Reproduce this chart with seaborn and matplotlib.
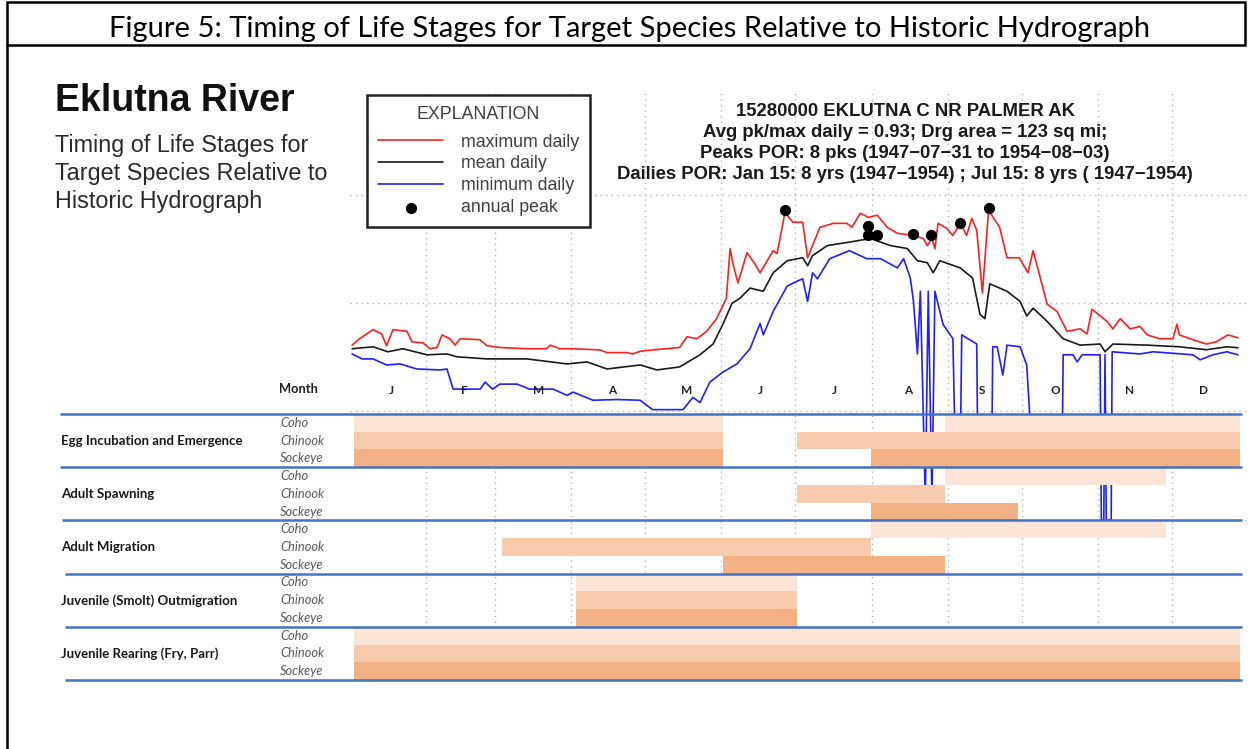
import matplotlib
matplotlib.use("Agg")
import matplotlib.pyplot as plt
from matplotlib.lines import Line2D
from matplotlib.patches import Rectangle
import numpy as np
import pandas as pd
import seaborn as sns

# ---- hydrograph data (day of year, cfs) ----
max_day = [1, 4, 9.5, 13, 15, 17.6, 23.3, 25.3, 29.8, 32.6,
           35.5, 37.5, 40.7, 42.8, 44.8, 52.9, 55.8, 61, 72, 80,
           81.4, 85.4, 90.7, 101.7, 104.5, 112.6, 115, 118, 123, 134,
           137, 141, 145, 149, 153, 154.5, 155.7, 157.7, 161.4, 164.6,
           166.7, 172, 173.6, 176.8, 180, 184, 186, 191, 196.4, 202,
           204, 207.4, 210.7, 214.3, 218.4, 222.5, 229, 233, 234.6, 236.5,
           237.7, 239, 242.5, 245, 248, 250.6, 252.7, 254.7, 257, 259.5,
           264, 267, 272, 275.5, 277.6, 281.6, 283.3, 287.3, 291.4, 296.7,
           299.5, 301.5, 307.6, 310, 313, 317, 321, 324, 329, 334.4,
           336, 337, 342.5, 348, 352, 356.7, 360.8]
max_cfs = [41, 47, 57, 52, 40.5, 57, 55, 44, 43, 38,
           39, 51, 47, 41, 47, 46, 40.5, 39, 38, 38,
           41, 38, 38, 37, 35, 35, 34, 36, 37, 39,
           49, 47, 55, 72, 111, 320, 231, 154, 293, 231,
           191, 306, 287, 690, 560, 560, 263, 502, 547, 547,
           502, 679, 622, 650, 502, 442, 423, 396, 341, 396,
           320, 547, 492, 423, 547, 423, 609, 471, 124, 724,
           502, 263, 263, 191, 306, 138, 98, 84, 55, 58,
           52, 88, 68, 58, 72, 58, 61, 51, 47, 47,
           64, 51, 46, 42, 44, 51, 48]

mean_day = [1, 9.5, 15.5, 21.6, 31.4, 39.5, 43.6, 55.8, 72, 88.3,
            96.4, 104.5, 118, 124.8, 134, 142.3, 147.6, 151.6, 155.3, 158.5,
            162.6, 168, 172, 177.7, 182, 184, 186, 188, 194, 202,
            211.5, 219.6, 226.5, 230.6, 234.6, 237, 239.7, 248, 253, 256,
            258, 260, 267, 272.3, 275, 277.6, 283.3, 289.8, 296.7, 304.8,
            306.8, 310, 324, 337, 348, 356.3, 360.8]
mean_cfs = [38, 39.6, 35.6, 38, 33.4, 34, 32, 30.6, 30.6, 27.5,
            28.7, 24.7, 26.9, 24.2, 25.8, 33.4, 42, 64, 100, 111,
            138, 129, 191, 247, 258, 263, 222, 275, 341, 364,
            396, 341, 320, 247, 237, 191, 247, 212, 171, 79,
            72, 151, 129, 104, 76, 90, 68, 47, 41, 42,
            35.6, 42, 41, 39.6, 37.2, 39.6, 38.8]

min_day = [1, 5, 9.5, 15, 20.4, 27.3, 36.7, 39.5, 42, 53,
           55, 58, 61, 68, 73, 82.6, 88.3, 90.7, 98.8, 108.6,
           118, 123, 135.4, 139.4, 142.3, 146.3, 151.6, 157.3, 162.6, 166.7,
           168, 172, 177.7, 182, 184, 186, 188, 190, 195, 203,
           210, 215.6, 222.5, 225, 227.7, 229, 230.6, 231.8, 233.8, 235,
           236.5, 237.7, 241, 245, 246, 248, 248.6, 254.7, 255.1, 260.8,
           261.2, 263, 265.3, 267, 272.3, 275, 277.2, 289.4, 289.8, 291.8,
           293.8, 295.5, 297.5, 304.8, 305.3, 306.3, 306.8, 307.3, 309.3, 309.7,
           321, 326.3, 342.5, 345.4, 350.6, 356.3, 360.8]
min_cfs = [34, 30.6, 30.6, 26.9, 27.5, 24.7, 24.2, 24.7, 16.1, 16.1,
           18.7, 16.1, 17.9, 17.9, 16.1, 16.1, 14.1, 15.1, 12.7, 12.9,
           12.7, 10.4, 10.4, 13.5, 12.1, 18.7, 23.1, 27.5, 38, 65,
           51, 84, 144, 161, 168, 104, 191, 168, 258, 306,
           258, 258, 212, 258, 171, 104, 34, 129, 1.5, 129,
           1.5, 129, 64, 47, 4, 4, 51, 42, 4, 4,
           39.6, 39.6, 21.7, 41, 39.6, 26.9, 4, 4, 33.4, 33.4,
           33.4, 28.7, 33.4, 33.4, 1, 1, 33.4, 1, 1, 35.6,
           34, 35.6, 33.4, 30, 33.4, 35.6, 33.4]

peak_day = [176.8, 210.7, 210.7, 214.3, 229, 236.1, 247.8, 259.5]
peak_cfs = [724, 513, 423, 423, 432, 423, 547, 757]

month_ends = [31, 59, 90, 120, 151, 181, 212, 243, 273, 304, 334]
decades = [0.1, 1, 10, 100, 1000]

# ---- life-stage timing (months from Jan 1) ----
month_letters = ["J", "F", "M", "A", "M", "J", "J", "A", "S", "O", "N", "D"]
species = ["Coho", "Chinook", "Sockeye"]
species_colors = ["#FCE4D6", "#F8CBAD", "#F4B183"]
stages = ["Egg Incubation and Emergence", "Adult Spawning", "Adult Migration",
          "Juvenile (Smolt) Outmigration", "Juvenile Rearing (Fry, Parr)"]
egg_periods = [[(0, 5), (8, 12)], [(0, 5), (6, 12)], [(0, 5), (7, 12)]]
spawning_periods = [[(8, 11)], [(6, 8)], [(7, 9)]]
migration_periods = [[(7, 11)], [(2, 7)], [(5, 8)]]
smolt_periods = [[(3, 6)], [(3, 6)], [(3, 6)]]
rearing_periods = [[(0, 12)], [(0, 12)], [(0, 12)]]
stage_periods = [egg_periods, spawning_periods, migration_periods,
                 smolt_periods, rearing_periods]

station_lines = [
    "15280000 EKLUTNA C NR PALMER AK",
    "Avg pk/max daily = 0.93; Drg area = 123 sq mi;",
    "Peaks POR: 8 pks (1947\u221207\u221231 to 1954\u221208\u221203)",
    "Dailies POR: Jan 15: 8 yrs (1947\u22121954) ; Jul 15: 8 yrs ( 1947\u22121954)",
]
subtitle_lines = ["Timing of Life Stages for", "Target Species Relative to",
                  "Historic Hydrograph"]

W, H = 1250, 749
LATO = ["Lato", "DejaVu Sans"]


def fx(px):
    return px / W


def fy(py):
    return 1 - py / H


def rect(left, top, right, bottom):
    return [left / W, 1 - bottom / H, (right - left) / W, (bottom - top) / H]


sns.set_theme(style="white")
plt.rcParams["font.family"] = ["Liberation Sans", "DejaVu Sans"]

fig = plt.figure(figsize=(W / 100, H / 100), dpi=100)
fig.patch.set_facecolor("white")

# ---- hydrograph ----
ax_h = fig.add_axes(rect(349.7, 93, 1248.3, 628))
ax_h.set_zorder(1)
ax_h.patch.set_alpha(0)
series = [
    (pd.DataFrame({"day": max_day, "cfs": max_cfs}), "#ff1f1f", "maximum daily"),
    (pd.DataFrame({"day": mean_day, "cfs": mean_cfs}), "#1a1a1a", "mean daily"),
    (pd.DataFrame({"day": min_day, "cfs": min_cfs}), "#1f1fff", "minimum daily"),
]
for df, color, label in series:
    sns.lineplot(data=df, x="day", y="cfs", color=color, linewidth=1.2,
                 estimator=None, sort=False, label=label, ax=ax_h)
sns.scatterplot(x=peak_day, y=peak_cfs, color="black", s=65, linewidth=0,
                label="annual peak", zorder=5, ax=ax_h)
ax_h.set_yscale("log")
ax_h.set_xlim(0, 365)
ax_h.set_ylim(0.1, 8750)
ax_h.set_xticks(month_ends)
ax_h.set_yticks(decades)
ax_h.minorticks_off()
ax_h.tick_params(length=0, labelbottom=False, labelleft=False)
ax_h.set_xlabel("")
ax_h.set_ylabel("")
ax_h.grid(True, color="#b5b5b5", linestyle=(0, (1, 3)), linewidth=1.0)
for s in ax_h.spines.values():
    s.set_visible(False)

leg = ax_h.legend(loc="upper left", bbox_to_anchor=(fx(367), fy(95)),
                  bbox_transform=fig.transFigure, borderaxespad=0,
                  title="EXPLANATION", fontsize=12.8, title_fontsize=12.8,
                  frameon=True, fancybox=False, framealpha=1,
                  edgecolor="#222222", handlelength=3.7, handletextpad=1.0,
                  labelspacing=0.275, borderpad=0.6)
leg._legend_box.sep = 7.8  # extra room between the title and the entries
leg.get_frame().set_linewidth(1.8)
leg.get_title().set_color("#404040")
for t in leg.get_texts():
    t.set_color("#404040")

# ---- life stage table ----
ax_b = fig.add_axes(rect(354, 414, 1240, 680))
ax_b.set_zorder(2)
ax_b.patch.set_alpha(0)
for g, periods in enumerate(stage_periods):
    for j, spans in enumerate(periods):
        row = 3 * g + j
        for start, end in spans:
            ax_b.barh(row + 0.5, end - start, left=start, height=1.0,
                      color=species_colors[j], linewidth=0)
ax_b.set_xlim(0, 12)
ax_b.set_ylim(15, 0)
ax_b.set_yticks([])
ax_b.xaxis.tick_top()
ax_b.set_xticks(np.arange(12) + 0.5)
ax_b.set_xticklabels(month_letters, family=LATO, weight="bold", fontsize=8.5,
                     color="#222222")
ax_b.tick_params(axis="x", length=0, pad=13)
for s in ax_b.spines.values():
    s.set_visible(False)

sep_rows = [0, 3, 6, 9, 12, 15]
sep_left = [60, 60, 62, 65, 65, 65]
ax_b.hlines(sep_rows, [(p - 354) / 886 for p in sep_left], 1.0023,
            transform=ax_b.get_yaxis_transform(), colors="#4472C4",
            linewidth=1.8, clip_on=False, zorder=5)

for g, stage in enumerate(stages):
    ax_b.text((61 - 354) / 886, 3 * g + 1.5, stage,
              transform=ax_b.get_yaxis_transform(), ha="left", va="center",
              family=LATO, weight="bold", fontsize=9.5, color="#1a1a1a")
    for j, sp in enumerate(species):
        ax_b.text((280 - 354) / 886, 3 * g + j + 0.5, sp,
                  transform=ax_b.get_yaxis_transform(), ha="left",
                  va="center", family=LATO, style="italic", fontsize=9.3,
                  color="#595959")

fig.text(fx(279), fy(389), "Month", ha="left", va="center", family=LATO,
         weight="bold", fontsize=9.3, color="#222222")

# ---- headings ----
fig.text(fx(55), fy(111), "Eklutna River", ha="left", va="baseline",
         weight="bold", fontsize=27, color="#111111")
for i, line in enumerate(subtitle_lines):
    fig.text(fx(55), fy(152 + 28 * i), line, ha="left", va="baseline",
             fontsize=16.8, color="#2a2a2a")
for i, line in enumerate(station_lines):
    fig.text(fx(905), fy(116 + 21 * i), line, ha="center", va="baseline",
             weight="bold", fontsize=13.3, color="#1a1a1a")

# ---- figure caption box ----
fig.text(fx(630), fy(37), "Figure 5: Timing of Life Stages for Target Species "
         "Relative to Historic Hydrograph", ha="center", va="baseline",
         family=LATO, fontsize=21, color="black")
fig.add_artist(Rectangle((fx(7), fy(45)), fx(1245) - fx(7), fy(2) - fy(45),
                         transform=fig.transFigure, fill=False,
                         edgecolor="black", linewidth=1.8))
fig.add_artist(Line2D([fx(7), fx(7)], [fy(45), 0], transform=fig.transFigure,
                      color="black", linewidth=1.8))

fig.savefig("out.png", dpi=100)
plt.close(fig)
